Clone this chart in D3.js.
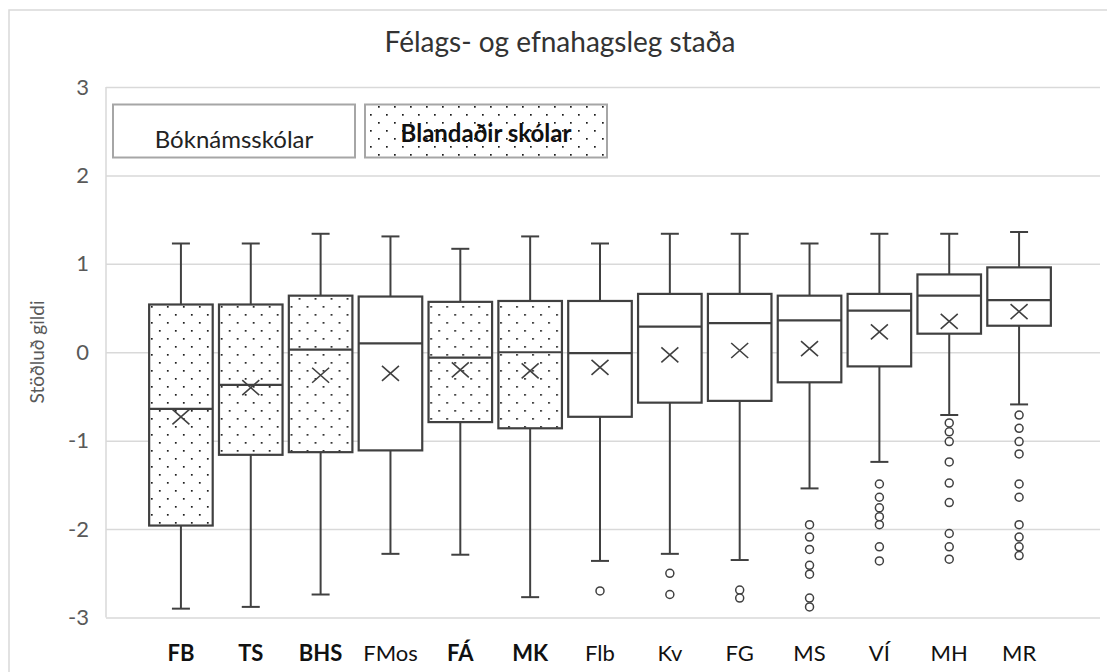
<!DOCTYPE html>
<html>
<head>
<meta charset="utf-8">
<script src="https://cdn.jsdelivr.net/npm/d3@7"></script>
<style>
  html, body { margin: 0; padding: 0; background: #fff; }
  svg { display: block; font-family: Lato, "Open Sans", sans-serif; }
</style>
</head>
<body>
<div id="chart"></div>
<script>
// schools, in the order shown on the category axis
const schools = ["FB", "TS", "BHS", "FMos", "FÁ", "MK", "Flb", "Kv", "FG", "MS", "VÍ", "MH", "MR"];
// "Blandaðir skólar" (dotted boxes, bold labels)
const blended = ["FB", "TS", "BHS", "FÁ", "MK"];

const whiskerHigh = [1.23, 1.23, 1.34, 1.31, 1.17, 1.31, 1.23, 1.34, 1.34, 1.23, 1.34, 1.34, 1.36];
const q3 = [0.54, 0.54, 0.64, 0.63, 0.57, 0.58, 0.58, 0.66, 0.66, 0.64, 0.66, 0.88, 0.96];
const median = [-0.64, -0.37, 0.03, 0.10, -0.06, 0.00, -0.01, 0.29, 0.33, 0.36, 0.47, 0.64, 0.59];
const mean = [-0.73, -0.40, -0.26, -0.24, -0.20, -0.21, -0.17, -0.03, 0.02, 0.04, 0.23, 0.35, 0.46];
const q1 = [-1.96, -1.16, -1.13, -1.11, -0.79, -0.86, -0.73, -0.57, -0.55, -0.34, -0.16, 0.21, 0.30];
const whiskerLow = [-2.90, -2.88, -2.74, -2.28, -2.29, -2.77, -2.36, -2.28, -2.35, -1.54, -1.24, -0.71, -0.59];
const outliers = [
  [], [], [], [], [], [],
  [-2.70],
  [-2.50, -2.74],
  [-2.69, -2.78],
  [-1.95, -2.09, -2.23, -2.41, -2.51, -2.78, -2.88],
  [-1.49, -1.64, -1.76, -1.86, -1.95, -2.20, -2.36],
  [-0.80, -0.90, -1.01, -1.24, -1.48, -1.70, -2.05, -2.20, -2.34],
  [-0.71, -0.86, -1.01, -1.15, -1.49, -1.64, -1.95, -2.09, -2.20, -2.30]
];
const yTicks = [-3, -2, -1, 0, 1, 2, 3];

const title = "Félags- og efnahagsleg staða";
const yTitle = "Stöðluð gildi";
const legendLabels = ["Bóknámsskólar", "Blandaðir skólar"];

const width = 1107, height = 672;
const plot = { left: 106, right: 1100, top: 87, bottom: 617.5 };
const ink = "#404040";

const svg = d3.select("#chart").append("svg")
  .attr("width", width)
  .attr("height", height);

// dotted fill used for the mixed schools
const pat = svg.append("defs").append("pattern")
  .attr("id", "dots")
  .attr("patternUnits", "userSpaceOnUse")
  .attr("width", 16)
  .attr("height", 16);
pat.append("rect").attr("width", 16).attr("height", 16).attr("fill", "#fff");
pat.append("rect").attr("x", 2).attr("y", 2).attr("width", 1.7).attr("height", 1.7).attr("fill", "#1a1a1a");
pat.append("rect").attr("x", 10).attr("y", 10).attr("width", 1.7).attr("height", 1.7).attr("fill", "#1a1a1a");

// outer chart border (runs off the right and bottom of the picture)
svg.append("rect")
  .attr("x", 9).attr("y", 10)
  .attr("width", 1120).attr("height", 700)
  .attr("fill", "none")
  .attr("stroke", "#d9d9d9")
  .attr("stroke-width", 1.5);

const x = d3.scaleBand()
  .domain(schools)
  .range([146, 1054])
  .paddingInner(0.09)
  .paddingOuter(0.045);

const y = d3.scaleLinear()
  .domain([-3, 3])
  .range([plot.bottom, plot.top]);

// gridlines + tick labels
svg.append("g")
  .attr("transform", `translate(${plot.left},0)`)
  .call(d3.axisLeft(y).tickValues(yTicks).tickFormat(d => String(d))
    .tickSize(-(plot.right - plot.left)).tickPadding(17))
  .call(g => g.select(".domain").remove())
  .call(g => g.selectAll(".tick line").attr("stroke", "#d9d9d9").attr("stroke-width", 1.5))
  .call(g => g.selectAll(".tick text")
    .attr("fill", "#595959")
    .attr("font-size", 22)
    .attr("font-family", "Lato, sans-serif"));

svg.append("line")
  .attr("x1", plot.left).attr("x2", plot.left)
  .attr("y1", plot.top).attr("y2", plot.bottom)
  .attr("stroke", "#d9d9d9")
  .attr("stroke-width", 1.5);

// boxes
const rows = schools.map((s, i) => ({
  name: s, mixed: blended.includes(s),
  hi: whiskerHigh[i], q3: q3[i], med: median[i], mean: mean[i], q1: q1[i], lo: whiskerLow[i],
  out: outliers[i]
}));

const capW = 9;
const boxes = svg.append("g").selectAll("g")
  .data(rows)
  .join("g")
  .attr("transform", d => `translate(${x(d.name) + x.bandwidth() / 2},0)`)
  .attr("stroke", ink)
  .attr("fill", "none");

boxes.append("line")
  .attr("y1", d => y(d.hi)).attr("y2", d => y(d.q3))
  .attr("stroke-width", 2);
boxes.append("line")
  .attr("y1", d => y(d.q1)).attr("y2", d => y(d.lo))
  .attr("stroke-width", 2);
boxes.append("line")
  .attr("x1", -capW).attr("x2", capW)
  .attr("y1", d => y(d.hi)).attr("y2", d => y(d.hi))
  .attr("stroke-width", 2);
boxes.append("line")
  .attr("x1", -capW).attr("x2", capW)
  .attr("y1", d => y(d.lo)).attr("y2", d => y(d.lo))
  .attr("stroke-width", 2);

boxes.append("rect")
  .attr("x", -x.bandwidth() / 2)
  .attr("width", x.bandwidth())
  .attr("y", d => y(d.q3))
  .attr("height", d => y(d.q1) - y(d.q3))
  .attr("fill", d => d.mixed ? "url(#dots)" : "#fff")
  .attr("stroke-width", 2.2);

boxes.append("line")
  .attr("x1", -x.bandwidth() / 2).attr("x2", x.bandwidth() / 2)
  .attr("y1", d => y(d.med)).attr("y2", d => y(d.med))
  .attr("stroke-width", 2.2);

// mean marker
boxes.append("path")
  .attr("d", d => {
    const c = y(d.mean), s = 8.5, t = 7.5;
    return `M${-s},${c - t}L${s},${c + t}M${-s},${c + t}L${s},${c - t}`;
  })
  .attr("stroke-width", 1.6);

boxes.selectAll("circle")
  .data(d => d.out)
  .join("circle")
  .attr("cy", v => y(v))
  .attr("r", 4)
  .attr("fill", "#fff")
  .attr("stroke-width", 1.5);

// category labels
svg.append("g").selectAll("text")
  .data(schools)
  .join("text")
  .attr("x", d => x(d) + x.bandwidth() / 2)
  .attr("y", 661)
  .attr("text-anchor", "middle")
  .attr("font-size", 22)
  .attr("font-weight", d => blended.includes(d) ? "bold" : "normal")
  .attr("fill", "#111")
  .text(d => d);

// title
svg.append("text")
  .attr("x", 560).attr("y", 52)
  .attr("text-anchor", "middle")
  .attr("font-size", 28)
  .attr("fill", "#333")
  .text(title);

// y axis title
svg.append("text")
  .attr("transform", "translate(44,352) rotate(-90)")
  .attr("text-anchor", "middle")
  .attr("font-size", 19)
  .attr("fill", "#595959")
  .text(yTitle);

// legend boxes
const legend = svg.append("g").selectAll("g")
  .data(legendLabels)
  .join("g");
legend.append("rect")
  .attr("x", (d, i) => i === 0 ? 113 : 365)
  .attr("y", 104.5)
  .attr("width", 242)
  .attr("height", 53)
  .attr("fill", (d, i) => i === 0 ? "#fff" : "url(#dots)")
  .attr("stroke", "#a6a6a6")
  .attr("stroke-width", 2);
legend.append("text")
  .attr("x", (d, i) => i === 0 ? 234 : 486)
  .attr("y", (d, i) => i === 0 ? 148 : 142)
  .attr("text-anchor", "middle")
  .attr("font-size", 24)
  .attr("font-weight", (d, i) => i === 0 ? "normal" : "bold")
  .attr("fill", (d, i) => i === 0 ? "#222" : "#111")
  .text(d => d);
</script>
</body>
</html>
